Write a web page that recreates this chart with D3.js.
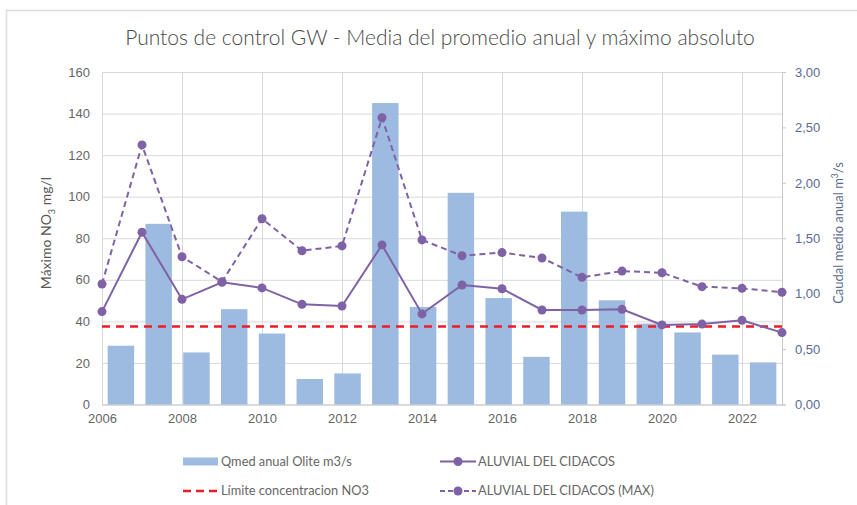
<!DOCTYPE html>
<html>
<head>
<meta charset="utf-8">
<script src="https://cdn.jsdelivr.net/npm/d3@7"></script>
<style>
  body { margin: 0; background: #fff; }
  svg { display: block; font-family: Lato, "Open Sans", sans-serif; }
</style>
</head>
<body>
<svg id="chart"></svg>
<script>
// Data
const years = [2006, 2007, 2008, 2009, 2010, 2011, 2012, 2013, 2014, 2015, 2016, 2017, 2018, 2019, 2020, 2021, 2022, 2023];
const qmedOlite = [0.53, 1.63, 0.47, 0.86, 0.64, 0.23, 0.28, 2.72, 0.88, 1.91, 0.96, 0.43, 1.74, 0.94, 0.73, 0.65, 0.45, 0.38];
const aluvialMedia = [44.7, 82.9, 50.6, 58.8, 56.1, 48.2, 47.4, 76.8, 43.6, 57.5, 55.7, 45.5, 45.5, 45.8, 38.3, 38.7, 40.5, 34.6];
const aluvialMax = [58.0, 124.9, 71.1, 59.1, 89.4, 74.0, 76.3, 138.0, 79.2, 71.6, 73.1, 70.5, 61.2, 64.2, 63.4, 56.7, 55.9, 54.0];
const limiteNO3 = 37.5;
const leftTicks = [0, 20, 40, 60, 80, 100, 120, 140, 160];
const rightTicks = [0, 0.5, 1, 1.5, 2, 2.5, 3];
const xTicks = [2006, 2008, 2010, 2012, 2014, 2016, 2018, 2020, 2022];

// Chart dimensions and margins
const width = 857;
const height = 505;
const marginTop = 72;
const marginRight = 75;
const marginBottom = 100.5;
const marginLeft = 102;

const purple = "#7f62a6";
const barBlue = "#9dbae0";
const grid = "#d9d9d9";

const svg = d3.select("#chart")
  .attr("width", width)
  .attr("height", height)
  .attr("viewBox", [0, 0, width, height]);

// Outer chart border (only top and left edges are visible in the picture)
svg.append("path")
  .attr("d", `M6.5,${height}V10.5H${width}`)
  .attr("fill", "none")
  .attr("stroke", "#dcdcdc")
  .attr("stroke-width", 1.5);

// Scales
const xLine = d3.scaleLinear([d3.min(years), d3.max(years)], [marginLeft, width - marginRight]);
const xBar = d3.scaleBand(years, [marginLeft, width - marginRight]).paddingInner(0.3).paddingOuter(0.15);
const y = d3.scaleLinear([0, 160], [height - marginBottom, marginTop]);
const y2 = d3.scaleLinear([0, 3], [height - marginBottom, marginTop]);

// Horizontal grid + left axis labels
svg.append("g")
  .attr("transform", `translate(${marginLeft},0)`)
  .call(d3.axisLeft(y).tickValues(leftTicks).tickSize(-(width - marginLeft - marginRight)).tickPadding(12))
  .call(g => g.select(".domain").remove())
  .call(g => g.selectAll(".tick line").attr("stroke", grid))
  .call(g => g.selectAll("text").attr("fill", "#666").style("font-size", "13px"));

// Vertical grid + bottom axis labels
svg.append("g")
  .attr("transform", `translate(0,${height - marginBottom})`)
  .call(d3.axisBottom(xLine).tickValues(xTicks).tickFormat(d3.format("d"))
    .tickSize(-(height - marginTop - marginBottom)).tickPadding(9))
  .call(g => g.select(".domain").attr("stroke", "#c8c8c8"))
  .call(g => g.selectAll(".tick line").attr("stroke", grid))
  .call(g => g.selectAll("text").attr("fill", "#666").style("font-size", "13px"));

// Right axis
svg.append("g")
  .attr("transform", `translate(${width - marginRight},0)`)
  .call(d3.axisRight(y2).tickValues(rightTicks).tickSizeOuter(0).tickSize(4).tickPadding(9)
    .tickFormat(d => d3.format(".2f")(d).replace(".", ",")))
  .call(g => g.select(".domain").attr("stroke", "#c8c8c8"))
  .call(g => g.selectAll(".tick line").attr("stroke", "#c8c8c8"))
  .call(g => g.selectAll("text").attr("fill", "#5b6a93").style("font-size", "13px"));

// Bars (secondary axis)
svg.append("g")
  .attr("fill", barBlue)
  .selectAll("rect")
  .data(years)
  .join("rect")
  .attr("x", d => xBar(d))
  .attr("width", xBar.bandwidth())
  .attr("y", (d, i) => y2(qmedOlite[i]))
  .attr("height", (d, i) => y2(0) - y2(qmedOlite[i]));

// Limit line
svg.append("line")
  .attr("x1", marginLeft)
  .attr("x2", width - marginRight)
  .attr("y1", y(limiteNO3))
  .attr("y2", y(limiteNO3))
  .attr("stroke", "#ee1c25")
  .attr("stroke-width", 2.5)
  .attr("stroke-dasharray", "8,6");

const line = d3.line()
  .x((d, i) => xLine(years[i]))
  .y(d => y(d));

// Dashed MAX series
svg.append("path")
  .attr("fill", "none")
  .attr("stroke", purple)
  .attr("stroke-width", 2)
  .attr("stroke-dasharray", "6,4")
  .attr("d", line(aluvialMax));

// Solid mean series
svg.append("path")
  .attr("fill", "none")
  .attr("stroke", purple)
  .attr("stroke-width", 2)
  .attr("d", line(aluvialMedia));

[aluvialMax, aluvialMedia].forEach(series => {
  svg.append("g")
    .attr("fill", purple)
    .selectAll("circle")
    .data(series)
    .join("circle")
    .attr("cx", (d, i) => xLine(years[i]))
    .attr("cy", d => y(d))
    .attr("r", 4.5);
});

// Title
svg.append("text")
  .attr("x", 440)
  .attr("y", 45)
  .attr("text-anchor", "middle")
  .attr("fill", "#4a4a4a")
  .style("font-size", "21px")
  .style("font-weight", 300)
  .text("Puntos de control GW - Media del promedio anual y máximo absoluto");

// Left axis title
const leftTitle = svg.append("text")
  .attr("transform", `translate(51,233) rotate(-90)`)
  .attr("text-anchor", "middle")
  .attr("fill", "#595959")
  .style("font-size", "14px");
leftTitle.append("tspan").text("Máximo NO");
leftTitle.append("tspan").attr("dy", 4).style("font-size", "9px").text("3");
leftTitle.append("tspan").attr("dy", -4).text(" mg/l");

// Right axis title
const rightTitle = svg.append("text")
  .attr("transform", `translate(843,233) rotate(-90)`)
  .attr("text-anchor", "middle")
  .attr("fill", "#5b6a93")
  .style("font-size", "13px");
rightTitle.append("tspan").text("Caudal medio anual m");
rightTitle.append("tspan").attr("dy", -5).style("font-size", "8.5px").text("3");
rightTitle.append("tspan").attr("dy", 5).text("/s");

// Legend
const legend = svg.append("g").style("font-size", "12.8px").attr("fill", "#666");
const legendItems = [
  { label: "Qmed anual Olite m3/s", x: 183, y: 461.5, type: "bar" },
  { label: "ALUVIAL DEL CIDACOS", x: 440, y: 461.5, type: "solid" },
  { label: "Límite concentracion NO3", x: 183, y: 491, type: "limit" },
  { label: "ALUVIAL DEL CIDACOS (MAX)", x: 440, y: 491, type: "dashed" }
];
legendItems.forEach(it => {
  const g = legend.append("g").attr("transform", `translate(${it.x},${it.y})`);
  if (it.type === "bar") {
    g.append("rect").attr("x", 0).attr("y", -4).attr("width", 35).attr("height", 8).attr("fill", barBlue);
  } else if (it.type === "limit") {
    g.append("line").attr("x1", 0).attr("x2", 35).attr("stroke", "#ee1c25").attr("stroke-width", 2.5).attr("stroke-dasharray", "8,5");
  } else {
    g.append("line").attr("x1", 0).attr("x2", 36).attr("stroke", purple).attr("stroke-width", 2)
      .attr("stroke-dasharray", it.type === "dashed" ? "5,3" : null);
    g.append("circle").attr("cx", 18).attr("r", 4.5).attr("fill", purple);
  }
  g.append("text").attr("x", 38).attr("dy", "0.35em").text(it.label);
});
</script>
</body>
</html>
